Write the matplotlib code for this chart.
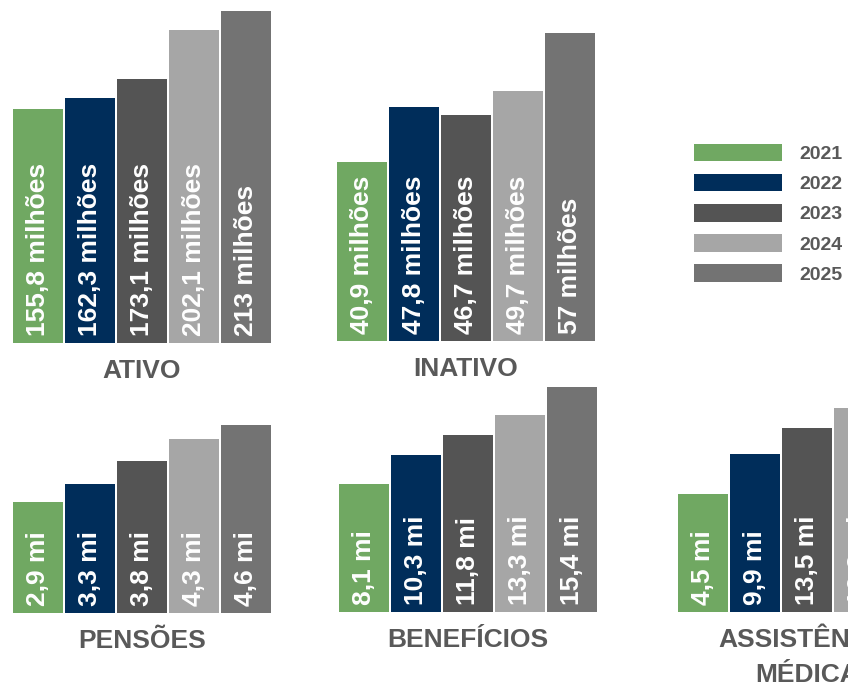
import matplotlib
matplotlib.use("Agg")
import matplotlib.pyplot as plt
from matplotlib.patches import Patch

plt.rcParams["font.family"] = ["Liberation Sans", "DejaVu Sans"]
plt.rcParams["font.weight"] = "bold"

W, H = 848, 685
YEARS = ["2021", "2022", "2023", "2024", "2025"]
COLORS = ["#70A862", "#002D5A", "#545454", "#A6A6A6", "#737373"]
TXT = "#595959"

ativo = [155.8, 162.3, 173.1, 202.1, 213]
ativo_lbl = ["155,8 milhões", "162,3 milhões", "173,1 milhões", "202,1 milhões", "213 milhões"]
inativo = [40.9, 47.8, 46.7, 49.7, 57]
inativo_lbl = ["40,9 milhões", "47,8 milhões", "46,7 milhões", "49,7 milhões", "57 milhões"]
pensoes = [2.9, 3.3, 3.8, 4.3, 4.6]
pensoes_lbl = ["2,9 mi", "3,3 mi", "3,8 mi", "4,3 mi", "4,6 mi"]
beneficios = [8.1, 10.3, 11.8, 13.3, 15.4]
beneficios_lbl = ["8,1 mi", "10,3 mi", "11,8 mi", "13,3 mi", "15,4 mi"]
# the right part of this panel is cut off by the picture edge; 4th value estimated
assist = [4.5, 9.9, 13.5, 16.2]
assist_lbl = ["4,5 mi", "9,9 mi", "13,5 mi", "16,2 mi"]


def px(v):
    # pixels -> points (dpi 100)
    return v * 0.72


def panel(left, base, height, ylim, vals, labels, title):
    ax = fig.add_axes([left / W, (H - base) / H, 260 / W, height / H])
    # value axis does not start at zero: bars rise from the axis floor
    ax.bar(range(len(vals)), [v - ylim[0] for v in vals], bottom=ylim[0],
           width=0.97, color=COLORS[:len(vals)])
    for i, lab in enumerate(labels):
        ax.annotate(lab, (i, ylim[0]), xytext=(0, px(7)), textcoords="offset points",
                    rotation=90, ha="center", va="bottom", color="white",
                    fontsize=19, fontweight="bold")
    for k, line in enumerate(title.split("\n")):
        ax.annotate(line, (0.5, 0), xycoords="axes fraction",
                    xytext=(0, -px(35 + 35 * k)), textcoords="offset points",
                    ha="center", va="baseline", color=TXT, fontsize=19,
                    fontweight="bold")
    ax.set_xlim(-0.5, 4.5)
    ax.set_ylim(*ylim)
    ax.axis("off")
    return ax


fig = plt.figure(figsize=(W / 100, H / 100), dpi=100)

panel(12, 343, 332, (19.2, 19.2 + 332 / 1.714), ativo, ativo_lbl, "ATIVO")
panel(336, 341, 330, (18.5, 18.5 + 330 / 8.0), inativo, inativo_lbl, "INATIVO")
panel(12, 612.5, 230, (0.48, 0.48 + 230 / 45.5), pensoes, pensoes_lbl, "PENSÕES")
panel(338, 612, 240, (-1.5, -1.5 + 240 / 13.31), beneficios, beneficios_lbl, "BENEFÍCIOS")
panel(677, 612, 240, (-11.5, -11.5 + 240 / 7.37), assist, assist_lbl, "ASSISTÊNCIA\nMÉDICA")

handles = [Patch(facecolor=c, edgecolor="none") for c in COLORS]
fig.legend(handles, YEARS, loc="upper left", bbox_to_anchor=(694 / W, 1 - 144 / H),
           frameon=False, borderpad=0, borderaxespad=0, handlelength=4.5,
           handleheight=1.0, handletextpad=0.9, labelspacing=0.55,
           prop={"size": 14, "weight": "bold"}, labelcolor=TXT)

fig.savefig("out.png", dpi=100)
